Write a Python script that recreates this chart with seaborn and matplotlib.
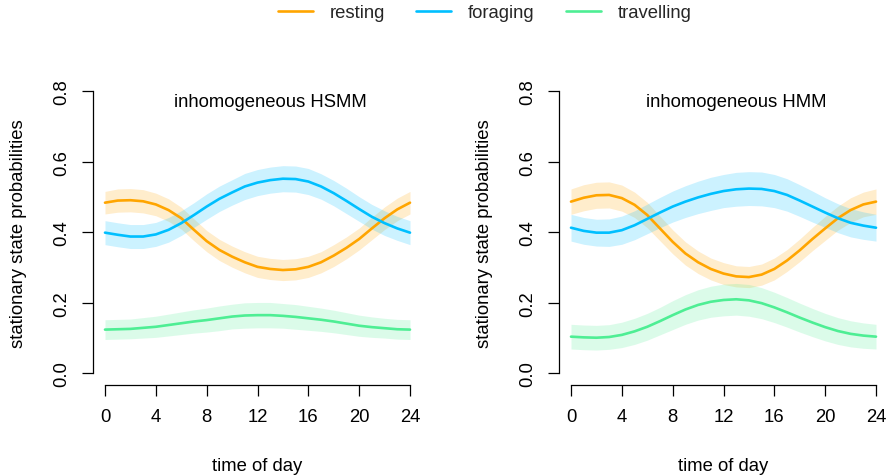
import matplotlib
matplotlib.use("Agg")
import matplotlib.pyplot as plt
from matplotlib.lines import Line2D
import numpy as np
import pandas as pd
import seaborn as sns

# ---------------- data ----------------
hours = list(range(25))
x_ticks = [0, 4, 8, 12, 16, 20, 24]
y_ticks = [0.0, 0.2, 0.4, 0.6, 0.8]
states = ["resting", "foraging", "travelling"]
panel_titles = ["inhomogeneous HSMM", "inhomogeneous HMM"]

hsmm_resting = [0.484, 0.490, 0.491, 0.488, 0.479, 0.463, 0.440, 0.407, 0.375, 0.350, 0.331, 0.315, 0.302,
                0.296, 0.293, 0.295, 0.302, 0.315, 0.334, 0.356, 0.381, 0.411, 0.440, 0.465, 0.484]
hsmm_foraging = [0.399, 0.393, 0.388, 0.388, 0.394, 0.407, 0.426, 0.449, 0.473, 0.495, 0.513, 0.530, 0.541,
                 0.548, 0.552, 0.551, 0.544, 0.530, 0.511, 0.489, 0.466, 0.444, 0.426, 0.411, 0.399]
hsmm_travelling = [0.124, 0.125, 0.126, 0.129, 0.132, 0.137, 0.142, 0.147, 0.151, 0.156, 0.161, 0.164, 0.165,
                   0.165, 0.163, 0.160, 0.156, 0.152, 0.147, 0.141, 0.135, 0.131, 0.128, 0.125, 0.124]
hsmm_resting_hw = [0.032, 0.033, 0.033, 0.033, 0.032, 0.032, 0.031, 0.031, 0.030, 0.030, 0.030, 0.030, 0.030,
                   0.030, 0.030, 0.030, 0.030, 0.030, 0.031, 0.031, 0.031, 0.032, 0.032, 0.032, 0.032]
hsmm_foraging_hw = [0.034, 0.034, 0.034, 0.034, 0.034, 0.035, 0.035, 0.035, 0.036, 0.036, 0.036, 0.037, 0.037,
                    0.037, 0.037, 0.037, 0.037, 0.036, 0.036, 0.036, 0.035, 0.035, 0.035, 0.034, 0.034]
hsmm_travelling_hw = [0.028, 0.028, 0.028, 0.029, 0.030, 0.031, 0.032, 0.033, 0.034, 0.035, 0.035, 0.036, 0.036,
                      0.036, 0.035, 0.035, 0.034, 0.033, 0.032, 0.031, 0.030, 0.029, 0.028, 0.028, 0.028]

hmm_resting = [0.487, 0.498, 0.505, 0.506, 0.497, 0.478, 0.449, 0.411, 0.373, 0.340, 0.315, 0.296, 0.283,
               0.275, 0.273, 0.280, 0.296, 0.320, 0.349, 0.381, 0.411, 0.440, 0.463, 0.479, 0.487]
hmm_foraging = [0.413, 0.404, 0.399, 0.399, 0.406, 0.420, 0.438, 0.456, 0.473, 0.487, 0.499, 0.509, 0.517,
                0.522, 0.524, 0.523, 0.517, 0.506, 0.490, 0.473, 0.456, 0.440, 0.427, 0.419, 0.413]
hmm_travelling = [0.104, 0.102, 0.101, 0.103, 0.109, 0.119, 0.132, 0.148, 0.165, 0.181, 0.194, 0.203, 0.208,
                  0.210, 0.207, 0.199, 0.187, 0.173, 0.158, 0.144, 0.131, 0.120, 0.112, 0.107, 0.104]
hmm_resting_hw = [0.036, 0.037, 0.037, 0.037, 0.037, 0.036, 0.036, 0.035, 0.034, 0.033, 0.032, 0.031, 0.031,
                  0.030, 0.030, 0.030, 0.031, 0.031, 0.032, 0.033, 0.034, 0.034, 0.035, 0.035, 0.036]
hmm_foraging_hw = [0.038, 0.038, 0.038, 0.039, 0.040, 0.041, 0.042, 0.043, 0.044, 0.045, 0.046, 0.047, 0.047,
                   0.048, 0.048, 0.048, 0.047, 0.046, 0.045, 0.044, 0.042, 0.041, 0.040, 0.039, 0.038]
hmm_travelling_hw = [0.035, 0.035, 0.035, 0.035, 0.036, 0.037, 0.038, 0.039, 0.041, 0.042, 0.043, 0.044, 0.045,
                     0.045, 0.045, 0.044, 0.043, 0.042, 0.041, 0.040, 0.039, 0.038, 0.037, 0.036, 0.035]

colors = {"resting": "#FFA500", "foraging": "#00BFFF", "travelling": "#4EEE94"}

panels = [
    {"resting": (hsmm_resting, hsmm_resting_hw),
     "foraging": (hsmm_foraging, hsmm_foraging_hw),
     "travelling": (hsmm_travelling, hsmm_travelling_hw)},
    {"resting": (hmm_resting, hmm_resting_hw),
     "foraging": (hmm_foraging, hmm_foraging_hw),
     "travelling": (hmm_travelling, hmm_travelling_hw)},
]

# ---------------- style ----------------
sns.set_theme(style="white")
plt.rcParams["font.family"] = ["Liberation Sans", "DejaVu Sans"]
FS = 13.3

W, H = 889, 477
fig = plt.figure(figsize=(W / 100, H / 100), dpi=100)
fig.patch.set_facecolor("white")

ax_w = 329.4 / W
ax_h = 304.6 / H
ax_bottom = (H - 385.6) / H
lefts = [92.8 / W, 558.8 / W]

for i, pdata in enumerate(panels):
    ax = fig.add_axes([lefts[i], ax_bottom, ax_w, ax_h])
    rows = []
    for s in states:
        mean, hw = pdata[s]
        for h, m, w in zip(hours, mean, hw):
            rows.append({"hour": h, "prob": m, "lo": m - w, "hi": m + w, "state": s})
    df = pd.DataFrame(rows)

    for s in states:
        d = df[df["state"] == s]
        ax.fill_between(d["hour"], d["lo"], d["hi"], color=colors[s], alpha=0.2, linewidth=0)
    sns.lineplot(data=df, x="hour", y="prob", hue="state", hue_order=states, palette=colors,
                 linewidth=1.9, legend=False, errorbar=None, ax=ax)

    ax.set_xlim(-0.96, 24.96)
    ax.set_ylim(-0.032, 0.832)
    ax.set_facecolor("white")
    for sp in ["top", "right"]:
        ax.spines[sp].set_visible(False)
    ax.spines["left"].set_bounds(0, 0.8)
    ax.spines["bottom"].set_bounds(0, 24)
    for sp in ["left", "bottom"]:
        ax.spines[sp].set_color("black")
        ax.spines[sp].set_linewidth(0.9)
    ax.set_xticks(x_ticks)
    ax.set_xticklabels([str(t) for t in x_ticks], fontsize=FS)
    ax.set_yticks(y_ticks)
    ax.set_yticklabels([f"{t:.1f}" for t in y_ticks], fontsize=FS, rotation=90, va="center")
    ax.tick_params(axis="both", direction="out", length=8, width=0.9, color="black",
                   labelcolor="black", left=True, bottom=True)
    ax.tick_params(axis="x", pad=9)
    ax.tick_params(axis="y", pad=8)
    ax.grid(False)

    ax.set_xlabel("time of day", fontsize=FS, color="black", va="center")
    ax.xaxis.set_label_coords(0.5, -0.267)
    ax.set_ylabel("stationary state probabilities", fontsize=FS, color="black", va="center")
    ax.yaxis.set_label_coords(-0.227, 0.5)

    ax.text(13, 0.772, panel_titles[i], ha="center", va="center", fontsize=FS, color="black")

handles = [Line2D([0], [0], color=colors[s], lw=1.9) for s in states]
fig.legend(handles, states, loc="center", bbox_to_anchor=(0.545, 1 - 14 / H), ncol=3,
           frameon=False, fontsize=FS, handlelength=1.9, handletextpad=0.9, columnspacing=1.7)

fig.savefig("out.png", dpi=100, facecolor="white")
